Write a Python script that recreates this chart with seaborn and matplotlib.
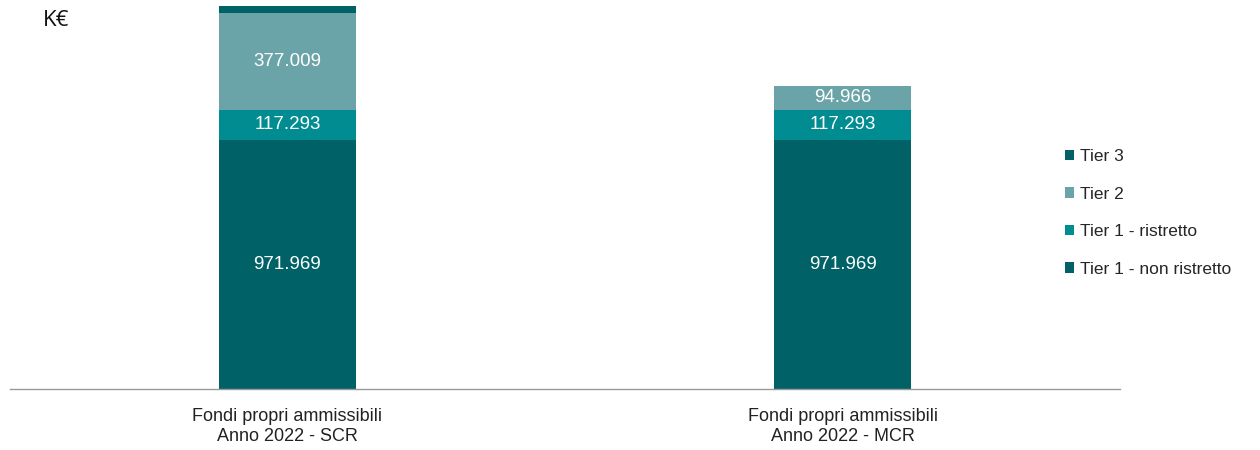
import numpy as np
import pandas as pd
import matplotlib
matplotlib.use('Agg')
import matplotlib.pyplot as plt
from matplotlib.patches import Patch
import seaborn as sns

# Data (K€)
categories = ['Fondi propri ammissibili\nAnno 2022 - SCR', 'Fondi propri ammissibili\nAnno 2022 - MCR']
tiers = ['Tier 1 - non ristretto', 'Tier 1 - ristretto', 'Tier 2', 'Tier 3']
tier1_non_ristretto = [971969, 971969]
tier1_ristretto = [117293, 117293]
tier2 = [377009, 94966]
tier3 = [27000, 0]
show_label = [True, True, True, False]

colors = ['#006266', '#008C90', '#6BA4A8', '#006266']

sns.set_theme(style='white')
plt.rcParams['font.family'] = ['Liberation Sans', 'DejaVu Sans']

values = [tier1_non_ristretto, tier1_ristretto, tier2, tier3]
cum = np.cumsum(np.array(values, dtype=float), axis=0)

fig = plt.figure(figsize=(12.6, 4.5), dpi=100)
ax = fig.add_axes([10 / 1260, 1 - 389 / 450, 1110 / 1260, 389 / 450])

# draw stacked bars back to front using cumulative totals
for i in reversed(range(len(tiers))):
    df = pd.DataFrame({'cat': categories, 'val': cum[i]})
    sns.barplot(data=df, x='cat', y='val', color=colors[i], width=0.247,
                saturation=1, ax=ax, linewidth=0)

# segment labels
for i in range(len(tiers)):
    if not show_label[i]:
        continue
    for j in range(len(categories)):
        v = values[i][j]
        base = cum[i][j] - v
        txt = f'{v:,}'.replace(',', '.')
        ax.text(j, base + v / 2, txt, ha='center', va='center',
                color='white', fontsize=13.5)

ax.set_xlim(-0.5, 1.5)
ax.set_ylim(0, 1518000)
ax.set_xlabel('')
ax.set_ylabel('')
ax.set_yticks([])
ax.tick_params(axis='x', length=0, pad=14, labelsize=13, colors='#222222')
for s in ['top', 'right', 'left']:
    ax.spines[s].set_visible(False)
ax.spines['bottom'].set_color('#999999')
ax.spines['bottom'].set_linewidth(1)

fig.text(43 / 1260, 1 - 20 / 450, 'K€', fontsize=16, va='center', ha='left',
         family=['Open Sans', 'DejaVu Sans'], color='#111111')

handles = [Patch(facecolor=colors[i], edgecolor='none', label=tiers[i]) for i in reversed(range(len(tiers)))]
fig.legend(handles=handles, loc='center left', bbox_to_anchor=(1056 / 1260, 1 - 213 / 450),
           frameon=False, fontsize=12.5, handlelength=0.55, handleheight=0.55,
           handletextpad=0.35, labelspacing=1.3, borderpad=0)

fig.savefig('out.png', dpi=100)
